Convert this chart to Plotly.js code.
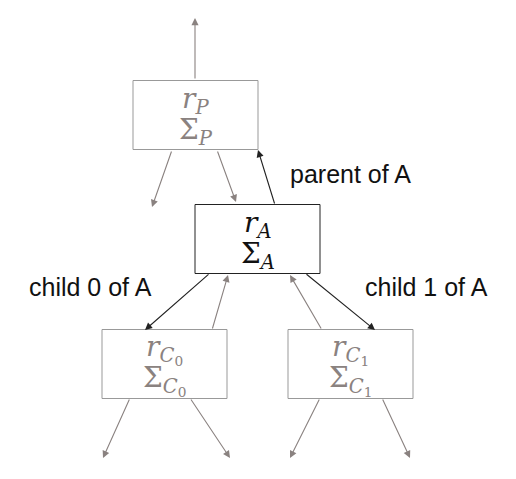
<!DOCTYPE html>
<html><head><script src="https://cdn.plot.ly/plotly-3.0.1.min.js"></script>
<style>body{margin:0}#d{width:516px;height:479px}</style></head>
<body><div id="d"></div><script>
// nodes: subscript, centre x, centre y, active?
const nodeNames = ['P', 'A', 'C0', 'C1'];
const nodeSubs = ['P', 'A', 'C<sub>0</sub>', 'C<sub>1</sub>'];
const nodeX = [195.5, 257.5, 164.5, 350.5];
const nodeY = [115, 239, 364, 364];
const nodeActive = [false, true, false, false];

// edges: from (x,y) to (x,y), active?
const edgeFrom = [[195,80],[172,150],[217,150],[275,205],[210,273],[212,330],[305,273],[322,330],[130,398],[190,398],[320,398],[382,398]];
const edgeTo   = [[195,18],[152,207],[236,202],[258,150],[145,330],[228,275],[375,330],[290,275],[103,458],[230,458],[290,458],[410,458]];
const edgeActive = [false,false,false,true,true,false,true,false,false,false,false,false];

const labels = ['parent of A', 'child 0 of A', 'child 1 of A'];
const labelX = [350, 90, 426];
const labelY = [174, 287, 287];

const W = 125, H = 69;
const grey = '#8a8280';
const shapes = [], annotations = [];
nodeNames.forEach((n, i) => {
  const c = nodeActive[i] ? '#111' : grey;
  shapes.push({type:'rect', xref:'x', yref:'y', x0:nodeX[i]-W/2, x1:nodeX[i]+W/2,
    y0:nodeY[i]-H/2, y1:nodeY[i]+H/2, line:{color:nodeActive[i]?'#222':'#999', width:1}});
  const sub = '<i>' + nodeSubs[i].replace(/<sub>/,'</i><sub>') + (nodeSubs[i].includes('<sub>') ? '' : '</i>');
  annotations.push({x:nodeX[i], y:nodeY[i]-15, xref:'x', yref:'y', showarrow:false,
    text:'<i>r</i><sub>'+sub+'</sub>', font:{family:'DejaVu Serif', size:28, color:c}});
  annotations.push({x:nodeX[i], y:nodeY[i]+16, xref:'x', yref:'y', showarrow:false,
    text:'Σ<sub>'+sub+'</sub>', font:{family:'DejaVu Serif', size:28, color:c}});
});
edgeFrom.forEach((f, i) => {
  const t = edgeTo[i];
  annotations.push({x:t[0], y:t[1], ax:f[0], ay:f[1], xref:'x', yref:'y', axref:'x', ayref:'y',
    text:'', showarrow:true, arrowhead:2, arrowsize:1.3, arrowwidth:1.1,
    arrowcolor: edgeActive[i] ? '#222' : grey});
});
labels.forEach((l, i) => annotations.push({x:labelX[i], y:labelY[i], xref:'x', yref:'y',
  showarrow:false, text:l, font:{family:'Liberation Sans, Arial', size:25, color:'#111'}}));

Plotly.newPlot('d', [], {
  width:516, height:479, margin:{l:0,r:0,t:0,b:0},
  xaxis:{range:[0,516], visible:false}, yaxis:{range:[479,0], visible:false},
  plot_bgcolor:'white', paper_bgcolor:'white', shapes, annotations, showlegend:false
}, {staticPlot:true});
</script></body></html>
